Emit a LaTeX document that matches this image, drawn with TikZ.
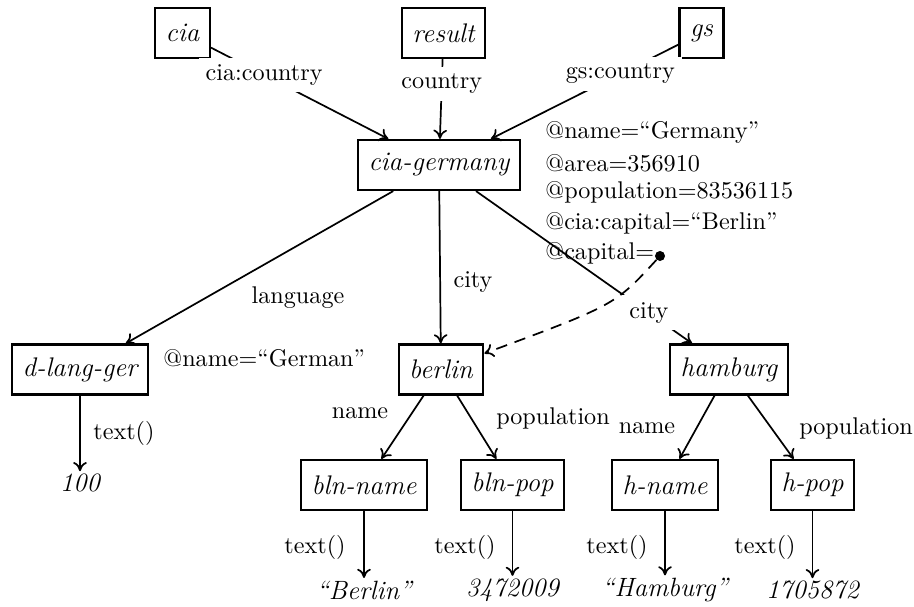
\documentclass[tikz,border=0pt]{standalone}
\usetikzlibrary{arrows.meta}
\begin{document}
\begin{tikzpicture}[x=0.4386pt,y=-0.4386pt,
  every node/.style={font=\fontsize{10.6}{12.7}\selectfont},
  box/.style={draw, line width=1pt, inner xsep=4.6pt, inner ysep=0pt,
    minimum height=21.9pt, font=\fontsize{11.8}{14}\selectfont\itshape},
  val/.style={inner sep=1pt, font=\fontsize{11.6}{14}\selectfont\itshape},
  elab/.style={fill=white, inner sep=3.1pt},
  attr/.style={anchor=base west, inner sep=0pt},
  link/.style={line width=0.75pt, -{To[length=4pt,width=6pt]}},
  ref/.style={link, dash pattern=on 5pt off 3.5pt},
]
\useasboundingbox (0,0) rectangle (914,607);

% element nodes
\node[box] (cia)     at (182.5,33)  {cia};
\node[box] (result)  at (443.5,33)  {result};
\node[box] (gs)      at (701.5,33)  {gs};
\node[box] (cg)      at (439,165)   {cia-germany};
\node[box] (dl)      at (80,369.5)  {d-lang-ger};
\node[box] (berlin)  at (441,369.5) {berlin};
\node[box] (hamburg) at (729,369.5) {hamburg};
\node[box] (bn)      at (364,485)   {bln-name};
\node[box] (bp)      at (512.5,485) {bln-pop};
\node[box] (hn)      at (665,485)   {h-name};
\node[box] (hp)      at (812.5,485) {h-pop};

% text values
\node[val] (v100) at (80,483)    {100};
\node[val] (vbn)  at (364,590)   {``Berlin''};
\node[val] (vbp)  at (512.5,590) {3472009};
\node[val] (vhn)  at (665,590)   {``Hamburg''};
\node[val] (vhp)  at (812.5,590) {1705872};

% attributes of cia-germany
\node[attr] (a1) at (545,139) {@name=``Germany''};
\node[attr] (a2) at (545,172) {@area=356910};
\node[attr] (a3) at (545,199) {@population=83536115};
\node[attr] (a4) at (545,230) {@cia:capital=``Berlin''};
\node[attr] (a5) at (545,260) {@capital=};
\node[circle, fill, inner sep=0pt, minimum size=4.4pt] (capdot) at (660,256) {};

% attribute of d-lang-ger
\node[attr] (a6) at (163,367) {@name=``German''};

% edge labels placed beside their edges
\node (llang)  at (298,298) {language};
\node (lcity)  at (473,282) {city};
\node (lbname) at (360,413) {name};
\node (lbpop)  at (553,418) {population};
\node (lhname) at (647,428) {name};
\node (lhpop)  at (856,428) {population};
\node (t0) at (124,433) {text()};
\node (t1) at (315,547) {text()};
\node (t2) at (465,547) {text()};
\node (t3) at (617,547) {text()};
\node (t4) at (765,547) {text()};

% edges
\draw[link] (cia) -- node[elab,pos=0.3] {cia:country} (cg);
\draw[link] (result) -- node[elab,pos=0.31] {country} (cg);
\draw[link] (gs) -- node[elab,pos=0.31] {gs:country} (cg);
\draw[link] (cg) -- (dl);
\draw[link] (cg) -- (berlin);
\draw[link] (cg) -- node[elab,pos=0.8] {city} (hamburg);
\draw[link] (berlin) -- (bn);
\draw[link] (berlin) -- (bp);
\draw[link] (hamburg) -- (hn);
\draw[link] (hamburg) -- (hp);
\draw[link] (dl) -- (v100);
\draw[link] (bn) -- (vbn);
\draw[link] (bp) -- (vbp);
\draw[link] (hn) -- (vhn);
\draw[link] (hp) -- (vhp);

% IDREF from @capital to berlin
\draw[ref] (capdot) .. controls (615,305) .. (berlin);
\end{tikzpicture}
\end{document}
